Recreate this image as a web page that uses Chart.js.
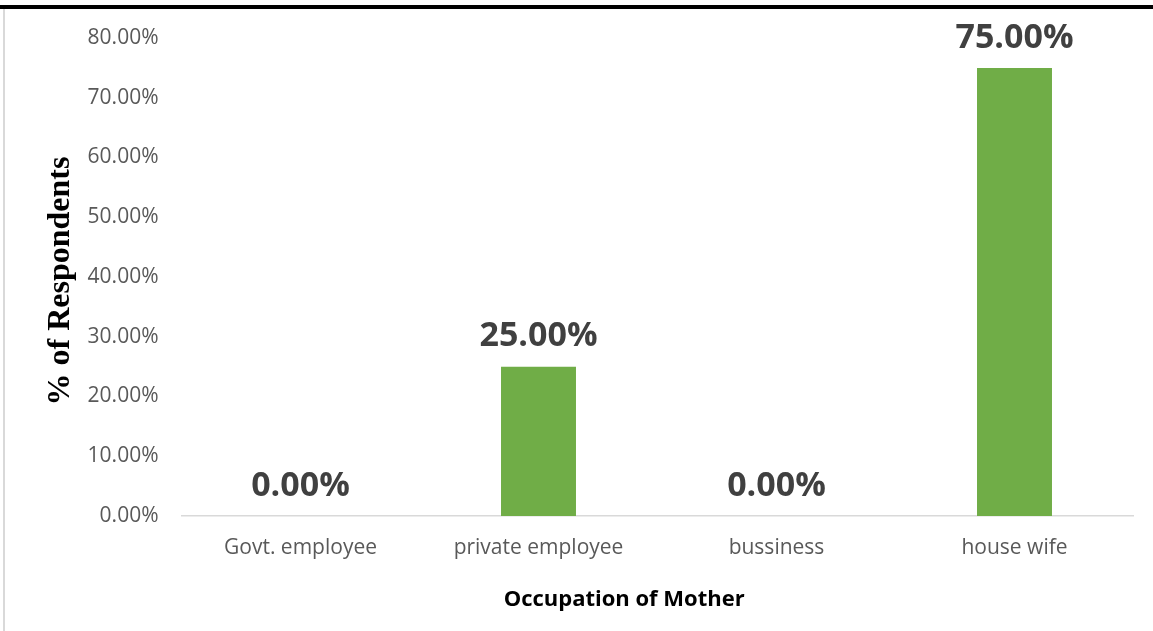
<!DOCTYPE html>
<html>
<head>
<meta charset="utf-8">
<title>Occupation of Mother</title>
<script src="https://cdn.jsdelivr.net/npm/chart.js@4"></script>
<style>
  html, body { margin: 0; padding: 0; background: #fff; }
  #wrap { position: relative; width: 1153px; height: 631px; }
</style>
</head>
<body>
<div id="wrap"><canvas id="occupationChart" width="1153" height="631"></canvas></div>
<script>
const categories = ['Govt. employee', 'private employee', 'bussiness', 'house wife'];
const respondentsPct = [0, 25, 0, 75];
const yTicks = [0, 10, 20, 30, 40, 50, 60, 70, 80];

const yTitle = '% of Respondents';
const xTitle = 'Occupation of Mother';

// page frame: heavy rule on top, thin grey rule on the left
const framePlugin = {
  id: 'frame',
  beforeDraw(chart) {
    const ctx = chart.ctx;
    ctx.save();
    ctx.fillStyle = '#000';
    ctx.fillRect(0, 5, chart.width, 4);
    ctx.fillStyle = '#d9d9d9';
    ctx.fillRect(3, 9, 2, chart.height - 9);
    ctx.restore();
  }
};

// value labels above each bar, plus both axis titles
const labelsPlugin = {
  id: 'labels',
  afterDatasetsDraw(chart) {
    const ctx = chart.ctx;
    const area = chart.chartArea;
    ctx.save();
    ctx.font = 'bold 34px "Open Sans"';
    ctx.fillStyle = '#404040';
    ctx.textAlign = 'center';
    ctx.textBaseline = 'middle';
    chart.getDatasetMeta(0).data.forEach((bar, i) => {
      ctx.fillText(respondentsPct[i].toFixed(2) + '%', bar.x, bar.y - 30);
    });

    ctx.fillStyle = '#000';
    ctx.font = 'bold 22px "Open Sans"';
    ctx.fillText(xTitle, area.left + (area.right - area.left) * 0.465, 600);

    ctx.font = 'bold 32px "Liberation Serif"';
    ctx.translate(61, (area.top + area.bottom) / 2 + 4);
    ctx.rotate(-Math.PI / 2);
    ctx.fillText(yTitle, 0, 0);
    ctx.restore();
  }
};

new Chart(document.getElementById('occupationChart'), {
  type: 'bar',
  data: {
    labels: categories,
    datasets: [{
      data: respondentsPct,
      backgroundColor: '#70ad47',
      barPercentage: 0.315,
      categoryPercentage: 1
    }]
  },
  options: {
    responsive: false,
    animation: false,
    layout: { padding: { top: 38, right: 19.5, left: 0, bottom: 0 } },
    plugins: {
      legend: { display: false },
      tooltip: { enabled: false }
    },
    scales: {
      x: {
        grid: { display: false, drawTicks: false },
        border: { display: true, color: '#d9d9d9', width: 1.5 },
        ticks: { color: '#595959', font: { family: 'Open Sans', size: 21 }, padding: 19 },
        afterFit(scale) { scale.height = 115; }
      },
      y: {
        min: 0,
        max: yTicks[yTicks.length - 1],
        grid: { display: false, drawTicks: false },
        border: { display: false },
        afterBuildTicks(scale) { scale.ticks = yTicks.map(v => ({ value: v })); },
        ticks: {
          color: '#595959',
          font: { family: 'Open Sans', size: 21 },
          padding: 23,
          callback: v => v.toFixed(2) + '%'
        },
        afterFit(scale) { scale.width = 181.5; }
      }
    }
  },
  plugins: [framePlugin, labelsPlugin]
});
</script>
</body>
</html>
